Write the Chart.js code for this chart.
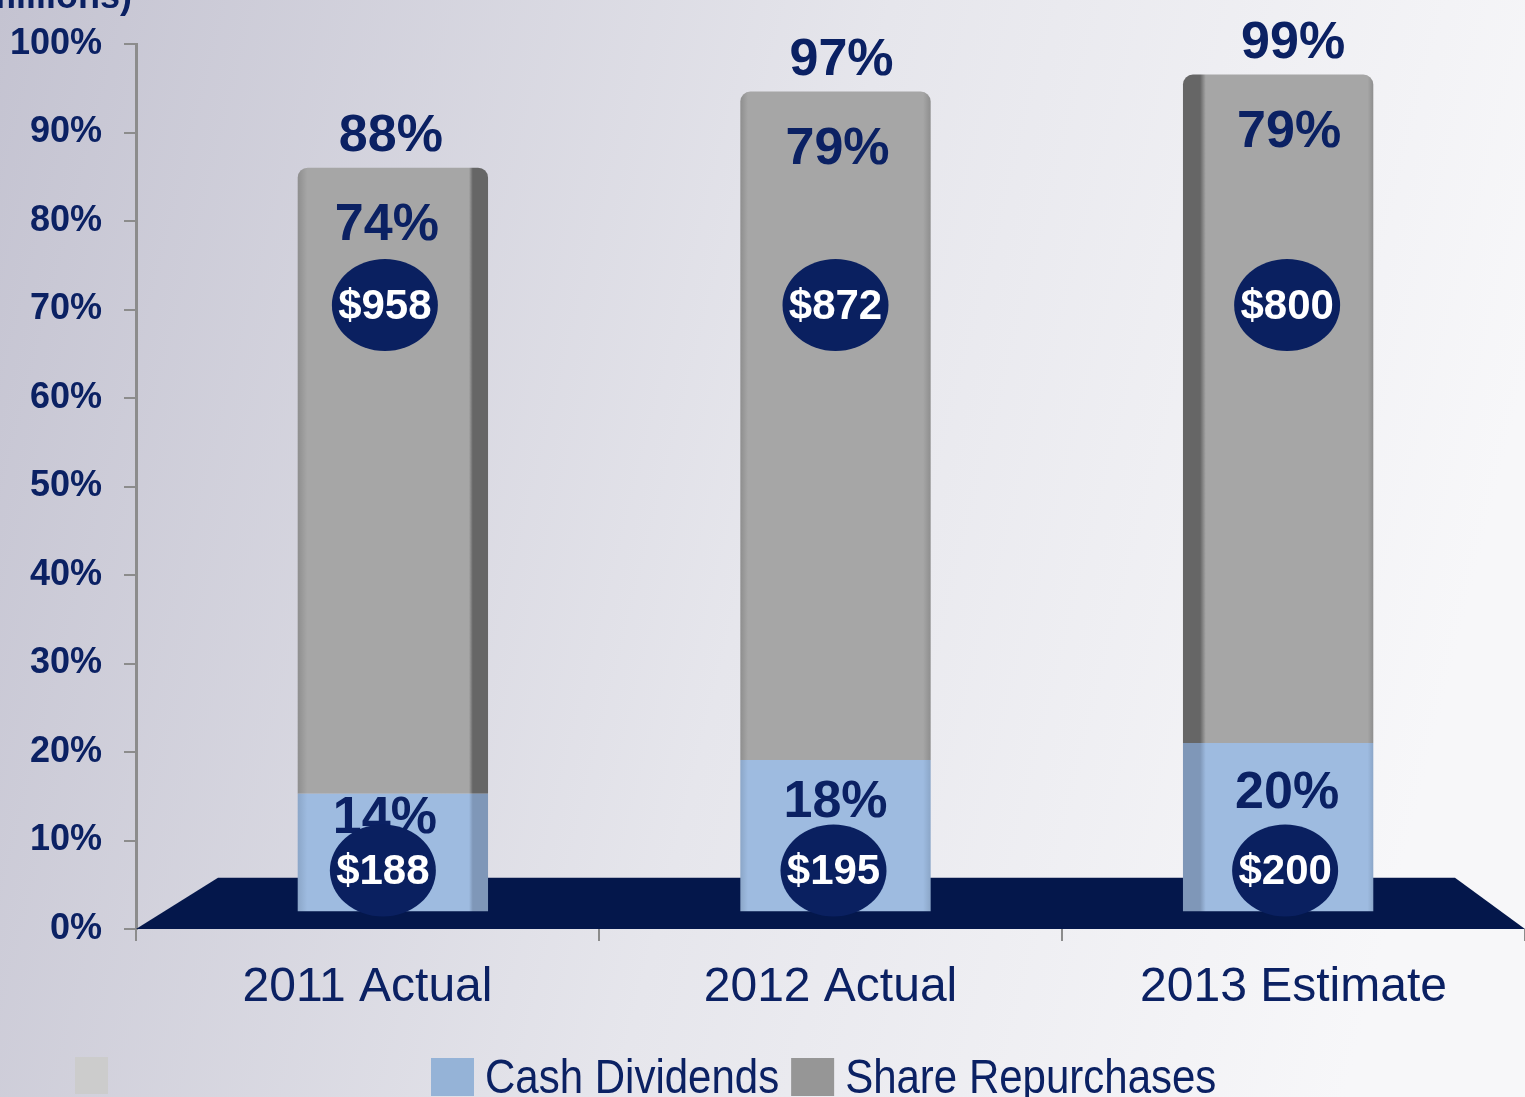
<!DOCTYPE html>
<html>
<head>
<meta charset="utf-8">
<script src="https://cdn.jsdelivr.net/npm/chart.js@4.4.0/dist/chart.umd.min.js"></script>
<style>
	html, body { margin: 0; padding: 0; overflow: hidden; }
	#wrap { width: 1525px; height: 1097px; }
</style>
</head>
<body>
<div id="wrap"><canvas id="chart" width="1525" height="1097"></canvas></div>
<script>
// chart values
var categories = ['2011 Actual', '2012 Actual', '2013 Estimate'];
var dividendPct = [14, 18, 20];
var repurchasePct = [74, 79, 79];
var totalPct = [88, 97, 99];
var dividendAmt = ['$188', '$195', '$200'];
var repurchaseAmt = ['$958', '$872', '$800'];
var seriesNames = ['Cash Dividends', 'Share Repurchases'];

const NAVY = '#0b2163';
const FONT = '"Liberation Sans", Arial, sans-serif';
// bars stand at the back of the floor: shrink them a bit toward the middle
const DEPTH = 0.956;
const BAR_PCT = 0.43;
// labels sit on the front face, which moves with the side face
const faceShift = [-8, 0, 9];

function depthX(chart, x) {
	var cx = (chart.chartArea.left + chart.chartArea.right) / 2;
	return cx + (x - cx) * DEPTH + 5;
}
function depthY(chart, y) {
	var y0 = chart.scales.y.getPixelForValue(0);
	var back = chart.scales.y.getPixelForValue(1.9);
	return back - (y0 - y) * DEPTH;
}

// fake 3D side shading
function barFill(base, edge, side) {
	return function(c) {
		var chart = c.chart;
		if (!chart.chartArea) return base;
		var x = depthX(chart, chart.scales.x.getPixelForValue(c.dataIndex));
		var w = chart.chartArea.width / categories.length * BAR_PCT * DEPTH;
		var g = chart.ctx.createLinearGradient(x - w / 2, 0, x + w / 2, 0);
		if (c.dataIndex === 0) {
			g.addColorStop(0, edge); g.addColorStop(0.05, base);
			g.addColorStop(0.9, base); g.addColorStop(0.92, side); g.addColorStop(1, side);
		} else if (c.dataIndex === 1) {
			g.addColorStop(0, edge); g.addColorStop(0.04, base);
			g.addColorStop(0.96, base); g.addColorStop(1, edge);
		} else {
			g.addColorStop(0, side); g.addColorStop(0.09, side); g.addColorStop(0.12, base);
			g.addColorStop(0.97, base); g.addColorStop(1, edge);
		}
		return g;
	};
}

const depthProjection = {
	id: 'depthProjection',
	afterDatasetsUpdate(chart) {
		chart.data.datasets.forEach((ds, i) => {
			chart.getDatasetMeta(i).data.forEach((el) => {
				el.x = depthX(chart, el.x);
				el.y = depthY(chart, el.y);
				el.base = depthY(chart, el.base);
				el.width = el.width * DEPTH;
			});
		});
	}
};

const pageBackground = {
	id: 'pageBackground',
	beforeDraw(chart) {
		const {ctx, width, height} = chart;
		ctx.save();
		var g = ctx.createLinearGradient(0, 0, width, height * 0.35);
		g.addColorStop(0, '#c4c3d1');
		g.addColorStop(0.55, '#e6e6ec');
		g.addColorStop(1, '#f7f7f9');
		ctx.fillStyle = g;
		ctx.fillRect(0, 0, width, height);
		// unit note, cut off at the top like the slide
		ctx.fillStyle = NAVY;
		ctx.font = 'bold 36px ' + FONT;
		ctx.textAlign = 'right';
		ctx.textBaseline = 'alphabetic';
		ctx.fillText('($ in millions)', 132, 8);
		ctx.restore();
	}
};

const floorPlate = {
	id: 'floorPlate',
	beforeDatasetsDraw(chart) {
		const {ctx, chartArea: {left, right}, scales: {y}} = chart;
		var bottom = y.getPixelForValue(0);
		var top = y.getPixelForValue(5.8);
		ctx.save();
		ctx.fillStyle = '#04174b';
		ctx.beginPath();
		ctx.moveTo(left, bottom);
		ctx.lineTo(left + 82, top);
		ctx.lineTo(right - 70, top);
		ctx.lineTo(right, bottom);
		ctx.closePath();
		ctx.fill();
		ctx.restore();
	}
};

function bubble(ctx, x, y, text) {
	ctx.fillStyle = '#0a2060';
	ctx.beginPath();
	ctx.ellipse(x, y, 53, 46, 0, 0, Math.PI * 2);
	ctx.fill();
	ctx.fillStyle = '#ffffff';
	ctx.font = 'bold 42px ' + FONT;
	ctx.textAlign = 'center';
	ctx.textBaseline = 'middle';
	ctx.fillText(text, x, y + 2);
}

const barLabels = {
	id: 'barLabels',
	afterDatasetsDraw(chart) {
		const {ctx, scales: {y}} = chart;
		var divMeta = chart.getDatasetMeta(0);
		var repMeta = chart.getDatasetMeta(1);
		ctx.save();
		for (let i = 0; i < categories.length; i++) {
			var d = divMeta.data[i], r = repMeta.data[i];
			var fx = r.x + faceShift[i];
			ctx.fillStyle = NAVY;
			ctx.font = 'bold 52px ' + FONT;
			ctx.textAlign = 'center';
			ctx.textBaseline = 'alphabetic';
			ctx.fillText(totalPct[i] + '%', fx + 6, r.y - 17);
			ctx.fillText(repurchasePct[i] + '%', fx + 2, r.y + 72);
			ctx.fillText(dividendPct[i] + '%', fx, (d.y + y.getPixelForValue(6.3)) / 2);
			bubble(ctx, fx, y.getPixelForValue(70.5), repurchaseAmt[i]);
			bubble(ctx, fx - 2, y.getPixelForValue(6.6), dividendAmt[i]);
		}
		ctx.restore();
	}
};

const sideLegend = {
	id: 'sideLegend',
	afterDraw(chart) {
		const {ctx} = chart;
		ctx.save();
		ctx.fillStyle = '#cccccc';
		ctx.fillRect(75, 1057, 33, 37);
		var boxColors = ['#95b3d7', '#969696'];
		var x = 431;
		ctx.font = '48px ' + FONT;
		ctx.textBaseline = 'alphabetic';
		ctx.textAlign = 'left';
		for (let i = 0; i < seriesNames.length; i++) {
			ctx.fillStyle = boxColors[i];
			ctx.fillRect(x, 1058, 43, 38);
			x += 54;
			ctx.save();
			ctx.translate(x, 1093);
			ctx.scale(0.875, 1);
			ctx.fillStyle = NAVY;
			ctx.fillText(seriesNames[i], 0, 0);
			ctx.restore();
			x += ctx.measureText(seriesNames[i]).width * 0.875 + 12;
		}
		ctx.restore();
	}
};

function createChart(ctx) {
	var chart = new Chart(ctx, {
	type: 'bar',
	data: {
		labels: categories,
		datasets: [
			{
				label: seriesNames[0],
				data: dividendPct,
				backgroundColor: barFill('#9ebbe0', '#8ba6c8', '#7f97b8'),
				borderWidth: 0,
				categoryPercentage: 1,
				barPercentage: BAR_PCT,
			},
			{
				label: seriesNames[1],
				data: repurchasePct,
				backgroundColor: barFill('#a6a6a6', '#8e8e8e', '#666666'),
				borderWidth: 0,
				borderRadius: {topLeft: 10, topRight: 10, bottomLeft: 0, bottomRight: 0},
				borderSkipped: false,
				categoryPercentage: 1,
				barPercentage: BAR_PCT,
			},
		],
	},
	options: {
		responsive: false,
		animation: false,
		layout: {
			padding: {top: 44, right: 0, left: 0, bottom: 0},
		},
		scales: {
			x: {
				stacked: true,
				grid: {
					display: true,
					offset: true,
					drawOnChartArea: false,
					tickLength: 12,
					color: '#8c8c8c',
					lineWidth: 2,
				},
				border: {display: false},
				ticks: {
					color: NAVY,
					font: {family: FONT, size: 48},
					padding: 18,
					maxRotation: 0,
				},
				afterFit(scale) { scale.height = 168; },
			},
			y: {
				stacked: true,
				min: 0,
				max: 100,
				grid: {
					display: true,
					drawOnChartArea: false,
					tickLength: 12,
					color: '#8c8c8c',
					lineWidth: 2,
				},
				border: {display: true, color: '#8c8c8c', width: 3},
				ticks: {
					stepSize: 10,
					color: NAVY,
					font: {family: FONT, size: 36, weight: 'bold'},
					padding: 22,
					callback: function(v) { return v + '%'; },
				},
				afterFit(scale) { scale.width = 136; },
			},
		},
		plugins: {
			legend: {display: false},
			tooltip: {enabled: false},
		},
	},
	plugins: [depthProjection, pageBackground, floorPlate, barLabels, sideLegend],
	});
	return chart;
}

createChart(document.getElementById('chart').getContext('2d'));
</script>
</body>
</html>
